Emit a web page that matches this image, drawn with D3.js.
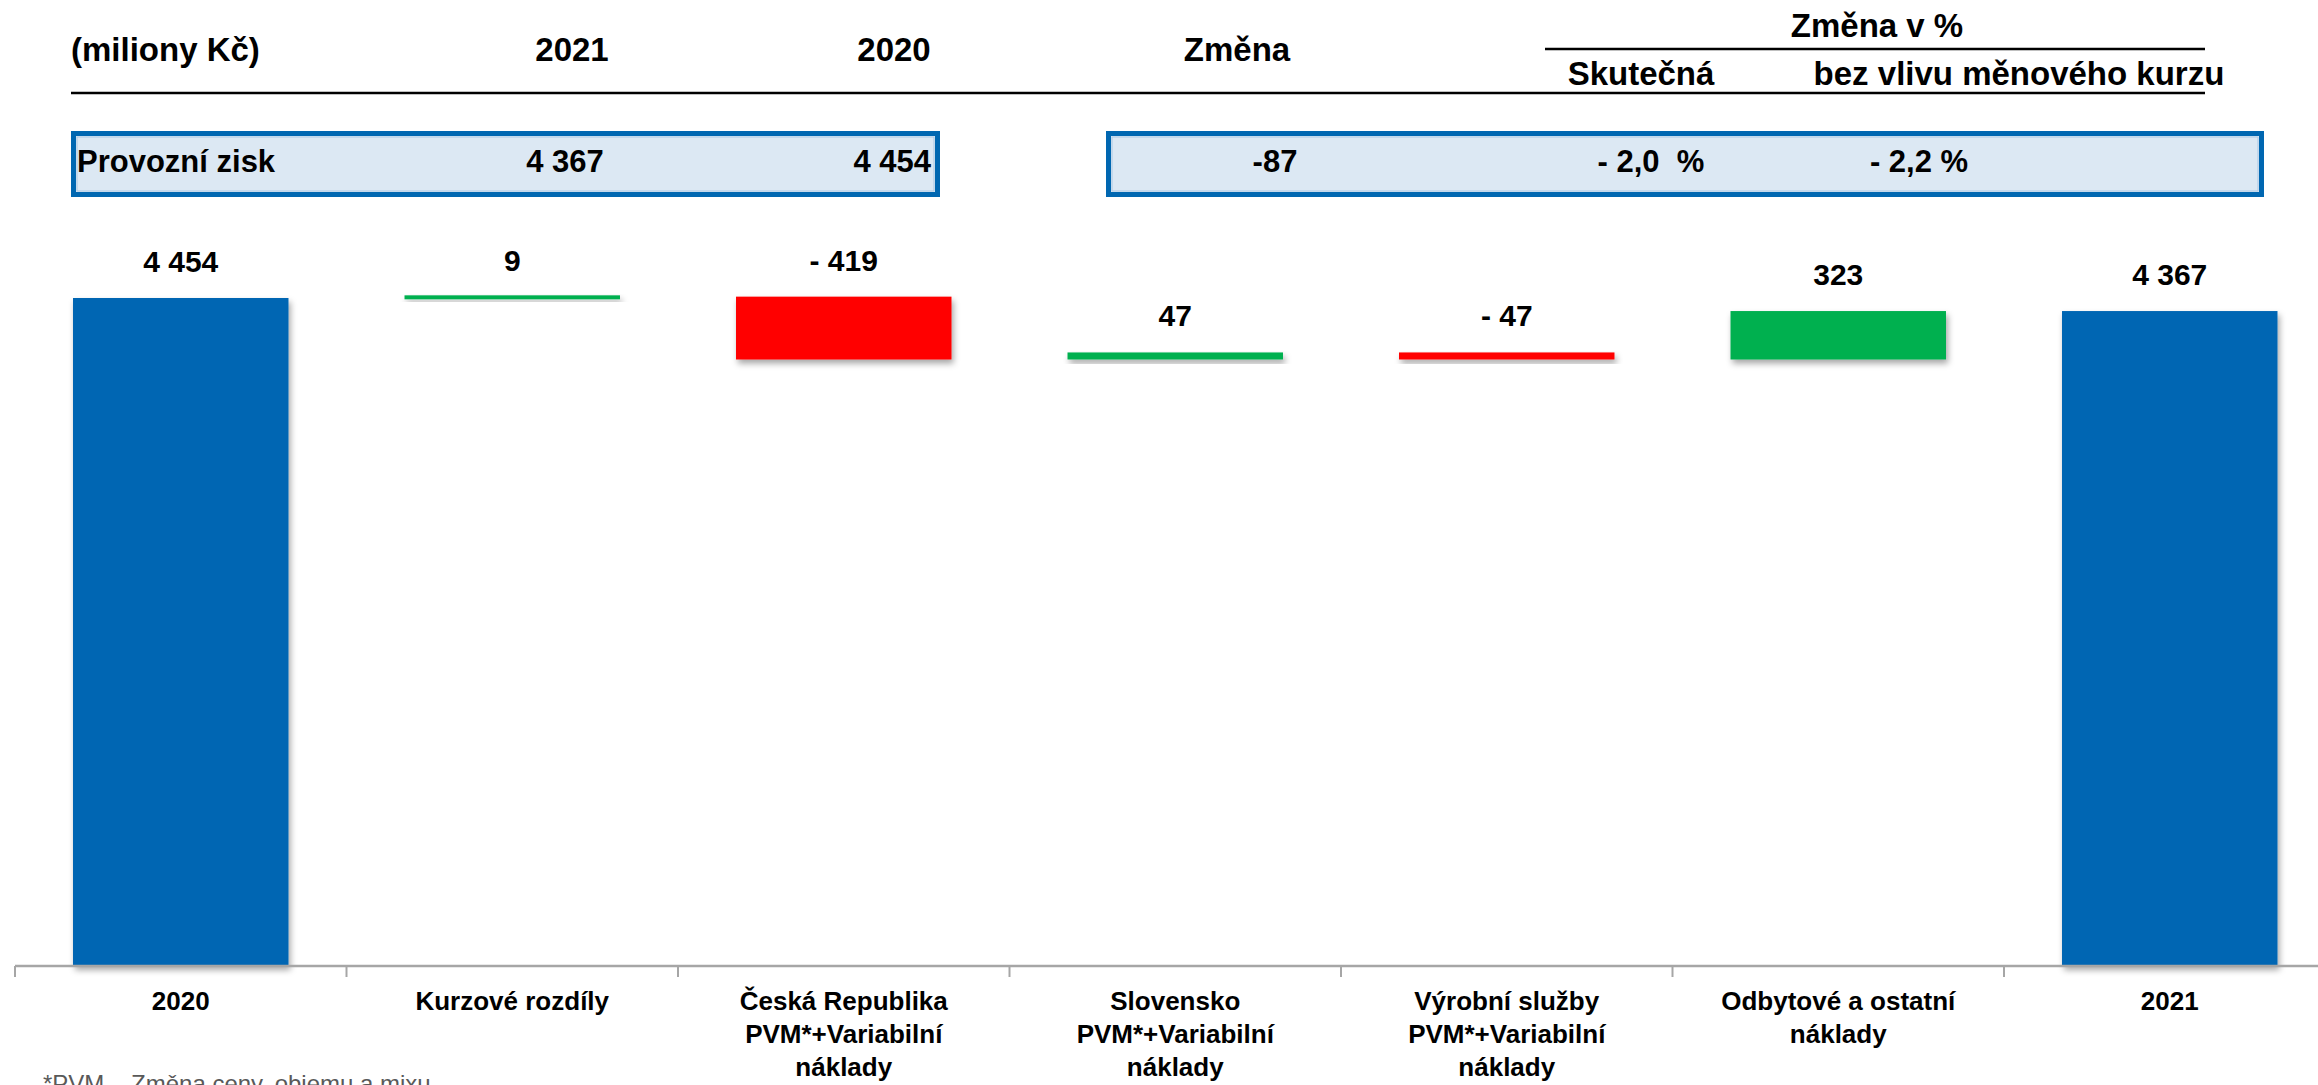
<!DOCTYPE html>
<html>
<head>
<meta charset="utf-8">
<script src="https://cdn.jsdelivr.net/npm/d3@7"></script>
<style>
  html, body { margin: 0; padding: 0; background: #fff; overflow: hidden; }
  svg { display: block; }
  text { font-family: "Liberation Sans", Arial, sans-serif; }
</style>
</head>
<body>
<svg id="chart" width="2318" height="1085"></svg>
<script>
// ---- data ----
const categories = ["2020", "Kurzové rozdíly", "Česká Republika|PVM*+Variabilní|náklady",
  "Slovensko|PVM*+Variabilní|náklady", "Výrobní služby|PVM*+Variabilní|náklady",
  "Odbytové a ostatní|náklady", "2021"];
const values = [4454, 9, -419, 47, -47, 323, 4367];
const kinds = ["total", "delta", "delta", "delta", "delta", "delta", "total"];
const valueLabels = ["4 454", "9", "- 419", "47", "- 47", "323", "4 367"];

const headerLabels = ["(miliony Kč)", "2021", "2020", "Změna"];
const pctHeader = "Změna v %";
const pctSubHeaders = ["Skutečná", "bez vlivu měnového kurzu"];
const rowLabel = "Provozní zisk";
const rowValues = ["4 367", "4 454"];
const rowChange = "-87";
const rowPct = ["- 2,0  %", "- 2,2 %"];
const footnote = "*PVM – Změna ceny, objemu a mixu";

// ---- setup ----
const svg = d3.select("#chart");
const W = 2318, H = 1085;
const colors = { total: "#0066b3", up: "#00b050", down: "#ff0000" };

const defs = svg.append("defs");
const f = defs.append("filter").attr("id", "shadow").attr("x", "-10%").attr("y", "-10%").attr("width", "130%").attr("height", "160%");
f.append("feDropShadow").attr("dx", 2).attr("dy", 4).attr("stdDeviation", 3)
  .attr("flood-color", "#000").attr("flood-opacity", 0.35);

// ---- header table ----
const hdr = svg.append("g");
hdr.append("text").attr("x", 71).attr("y", 61).attr("font-size", 33).attr("font-weight", "bold").text(headerLabels[0]);
hdr.append("text").attr("x", 572).attr("y", 61).attr("text-anchor", "middle").attr("font-size", 33).attr("font-weight", "bold").text(headerLabels[1]);
hdr.append("text").attr("x", 894).attr("y", 61).attr("text-anchor", "middle").attr("font-size", 33).attr("font-weight", "bold").text(headerLabels[2]);
hdr.append("text").attr("x", 1237).attr("y", 61).attr("text-anchor", "middle").attr("font-size", 33).attr("font-weight", "bold").text(headerLabels[3]);
hdr.append("text").attr("x", 1877).attr("y", 37).attr("text-anchor", "middle").attr("font-size", 33).attr("font-weight", "bold").text(pctHeader);
hdr.append("line").attr("x1", 1545).attr("x2", 2205).attr("y1", 49).attr("y2", 49).attr("stroke", "#000").attr("stroke-width", 2.5);
hdr.append("text").attr("x", 1641).attr("y", 85).attr("text-anchor", "middle").attr("font-size", 33).attr("font-weight", "bold").text(pctSubHeaders[0]);
hdr.append("text").attr("x", 2019).attr("y", 85).attr("text-anchor", "middle").attr("font-size", 33).attr("font-weight", "bold").text(pctSubHeaders[1]);
hdr.append("line").attr("x1", 71).attr("x2", 2205).attr("y1", 93).attr("y2", 93).attr("stroke", "#000").attr("stroke-width", 2.5);

// boxes
[[71, 940], [1106, 2264]].forEach(([x0, x1]) => {
  hdr.append("rect").attr("x", x0 + 2.5).attr("y", 133.5).attr("width", x1 - x0 - 5).attr("height", 61)
    .attr("fill", "#dce8f3").attr("stroke", "#0067b1").attr("stroke-width", 5);
  hdr.append("rect").attr("x", x0 + 6).attr("y", 137).attr("width", x1 - x0 - 12).attr("height", 54)
    .attr("fill", "none").attr("stroke", "#a9c7e4").attr("stroke-width", 1);
});
const rowY = 172;
hdr.append("text").attr("x", 77).attr("y", rowY).attr("font-size", 31).attr("font-weight", "bold").text(rowLabel);
hdr.append("text").attr("x", 565).attr("y", rowY).attr("text-anchor", "middle").attr("font-size", 31).attr("font-weight", "bold").text(rowValues[0]);
hdr.append("text").attr("x", 931).attr("y", rowY).attr("text-anchor", "end").attr("font-size", 31).attr("font-weight", "bold").text(rowValues[1]);
hdr.append("text").attr("x", 1275).attr("y", rowY).attr("text-anchor", "middle").attr("font-size", 31).attr("font-weight", "bold").text(rowChange);
hdr.append("text").attr("x", 1651).attr("y", rowY).attr("text-anchor", "middle").attr("font-size", 31).attr("font-weight", "bold").attr("xml:space", "preserve").style("white-space", "pre").text(rowPct[0]);
hdr.append("text").attr("x", 1919).attr("y", rowY).attr("text-anchor", "middle").attr("font-size", 31).attr("font-weight", "bold").text(rowPct[1]);

// ---- waterfall ----
const x = d3.scaleBand().domain(categories).range([15, 15 + 7 * 331.5]).paddingInner(0.35).paddingOuter(0.175);
const y = d3.scaleLinear().domain([0, 4454]).range([966, 298]);

let running = 0;
const bars = values.map((v, i) => {
  let lo, hi, color;
  if (kinds[i] === "total") { lo = 0; hi = v; running = v; color = colors.total; }
  else { const s = running; running += v; lo = Math.min(s, running); hi = Math.max(s, running); color = v >= 0 ? colors.up : colors.down; }
  return { cat: categories[i], lo, hi, color, label: valueLabels[i] };
});

const g = svg.append("g");
g.selectAll("rect.bar").data(bars).join("rect").attr("class", "bar")
  .attr("x", d => x(d.cat)).attr("width", x.bandwidth())
  .attr("y", d => { const h = y(d.lo) - y(d.hi); return h < 4 ? y(d.hi) - (4 - h) / 2 : y(d.hi); })
  .attr("height", d => Math.max(4, y(d.lo) - y(d.hi)))
  .attr("fill", d => d.color).attr("filter", "url(#shadow)");

g.selectAll("text.val").data(bars).join("text").attr("class", "val")
  .attr("x", d => x(d.cat) + x.bandwidth() / 2)
  .attr("y", d => y(d.hi) - 26)
  .attr("text-anchor", "middle").attr("font-size", 30).attr("font-weight", "bold")
  .attr("fill", "#000").text(d => d.label);

// axis
const axis = d3.axisBottom(x).tickSize(0).tickFormat("");
const ax = svg.append("g").attr("transform", "translate(0,966)").call(axis);
ax.select(".domain").attr("stroke", "#a6a6a6").attr("stroke-width", 2.5).attr("d", `M15,0H${W}`);
// boundary ticks
const bounds = d3.range(categories.length + 1).map(i => x.range()[0] + i * x.step());
ax.selectAll("line.bound").data(bounds).join("line").attr("class", "bound")
  .attr("x1", d => d).attr("x2", d => d).attr("y1", 0).attr("y2", 11)
  .attr("stroke", "#a6a6a6").attr("stroke-width", 2);

// category labels
const cl = svg.append("g");
categories.forEach(c => {
  const lines = c.split("|");
  const t = cl.append("text").attr("x", x(c) + x.bandwidth() / 2).attr("y", 1010)
    .attr("text-anchor", "middle").attr("font-size", 26).attr("font-weight", "bold").attr("fill", "#000");
  lines.forEach((ln, j) => t.append("tspan").attr("x", x(c) + x.bandwidth() / 2).attr("y", 1010 + j * 33).text(ln));
});

// footnote
svg.append("text").attr("x", 43).attr("y", 1092).attr("font-size", 24).attr("fill", "#595959").text(footnote);
</script>
</body>
</html>
